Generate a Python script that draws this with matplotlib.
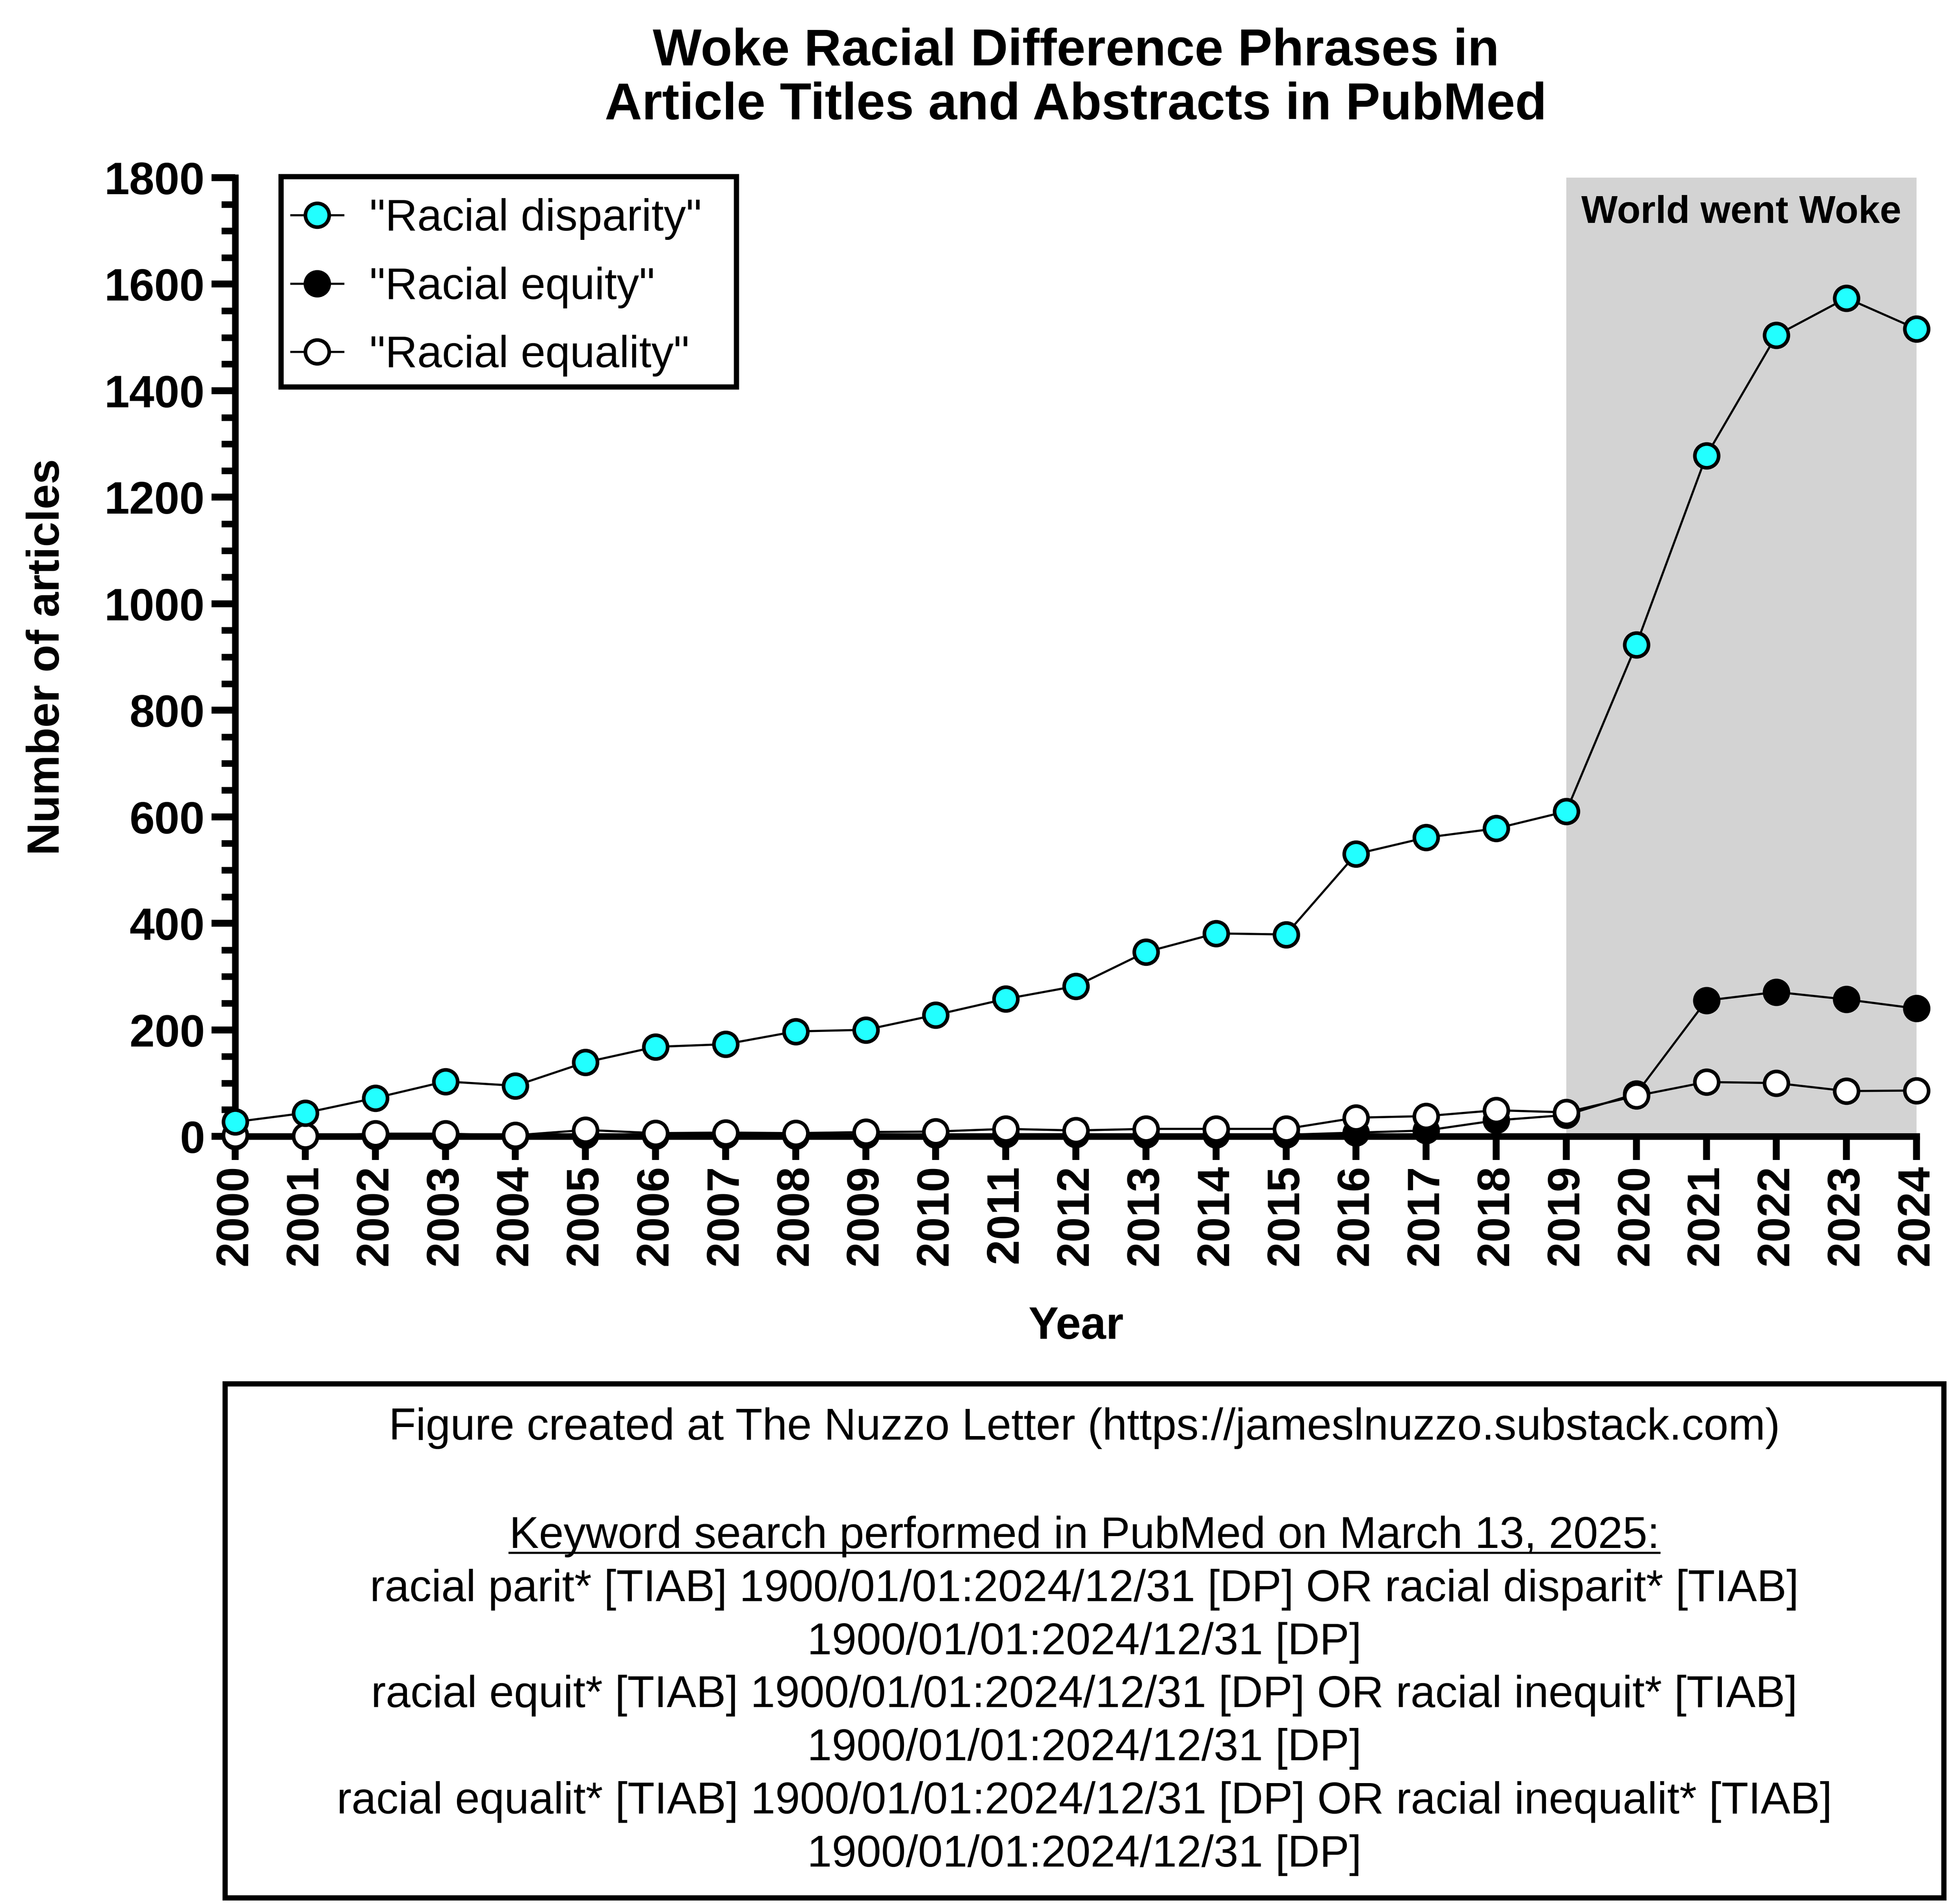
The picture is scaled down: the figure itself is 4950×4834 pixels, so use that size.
import matplotlib
matplotlib.use("Agg")
import matplotlib.pyplot as plt
from matplotlib.ticker import MultipleLocator
from matplotlib.lines import Line2D
from matplotlib.patches import Rectangle

plt.rcParams['font.family'] = ['Liberation Sans', 'DejaVu Sans']

# ---------------- data ----------------
years = list(range(2000, 2025))
racial_disparity = [27, 44, 72, 103, 95, 139, 168, 173, 197, 200, 228, 258, 282, 346, 381,
                    379, 530, 561, 578, 610, 923, 1278, 1504, 1574, 1516]
racial_equity = [0, 0, 0, 0, 0, 2, 1, 2, 1, 2, 3, 4, 4, 3, 3,
                 3, 7, 11, 30, 40, 80, 255, 271, 257, 240]
racial_equality = [2, 1, 5, 5, 2, 12, 6, 7, 6, 8, 9, 14, 11, 14, 14,
                   14, 35, 38, 49, 45, 76, 102, 100, 85, 86]
series_labels = ['"Racial disparity"', '"Racial equity"', '"Racial equality"']
woke_start, woke_end = 2019, 2024
title = "Woke Racial Difference Phrases in\nArticle Titles and Abstracts in PubMed"
note_lines = [
    "racial parit* [TIAB] 1900/01/01:2024/12/31 [DP] OR racial disparit* [TIAB]",
    "1900/01/01:2024/12/31 [DP]",
    "racial equit* [TIAB] 1900/01/01:2024/12/31 [DP] OR racial inequit* [TIAB]",
    "1900/01/01:2024/12/31 [DP]",
    "racial equalit* [TIAB] 1900/01/01:2024/12/31 [DP] OR racial inequalit* [TIAB]",
    "1900/01/01:2024/12/31 [DP]",
]
credit = "Figure created at The Nuzzo Letter (https://jameslnuzzo.substack.com)"
keyword_head = "Keyword search performed in PubMed on March 13, 2025:"

# ---------------- figure ----------------
W, H = 4950, 4834
fig = plt.figure(figsize=(W / 300, H / 300), dpi=300)
ax_l, ax_r, ax_t, ax_b = 597, 4865, 451, 2885
ax = fig.add_axes([ax_l / W, 1 - ax_b / H, (ax_r - ax_l) / W, (ax_b - ax_t) / H])

ax.axvspan(woke_start, woke_end, color='#d3d3d3', zorder=0, lw=0)

ms, mew, lw = 14.5, 2.2, 1.3
l_eq, = ax.plot(years, racial_equity, '-o', color='black', mfc='black', mec='black',
                ms=ms, mew=mew, lw=lw, zorder=3, clip_on=False, label=series_labels[1])
l_el, = ax.plot(years, racial_equality, '-o', color='black', mfc='white', mec='black',
                ms=ms, mew=mew, lw=lw, zorder=4, clip_on=False, label=series_labels[2])
l_ds, = ax.plot(years, racial_disparity, '-o', color='black', mfc='#22ffff', mec='black',
                ms=ms, mew=mew, lw=lw, zorder=5, clip_on=False, label=series_labels[0])

ax.set_xlim(2000, 2024)
ax.set_ylim(0, 1800)
ax.set_xticks(years)
ax.set_xticklabels([str(y) for y in years], rotation=90, fontsize=27.5, fontweight='bold')
ax.yaxis.set_major_locator(MultipleLocator(200))
ax.yaxis.set_minor_locator(MultipleLocator(50))
for lab in ax.get_yticklabels():
    lab.set_fontsize(27.5)
    lab.set_fontweight('bold')
ax.tick_params(axis='both', which='major', direction='out', length=14.5, width=4.2, pad=4)
ax.tick_params(axis='y', which='minor', direction='out', length=8.5, width=4.0)
ax.tick_params(axis='x', pad=3)

for s in ['top', 'right']:
    ax.spines[s].set_visible(False)
for s in ['left', 'bottom']:
    ax.spines[s].set_linewidth(4.0)
ax.spines['bottom'].set_zorder(2.5)

ax.set_title(title, fontsize=31.5, fontweight='bold', linespacing=1.15, pad=35.5)
ax.set_ylabel("Number of articles", fontsize=27.5, fontweight='bold')
ax.yaxis.set_label_coords(-0.099, 0.5)
ax.set_xlabel("Year", fontsize=27.5, fontweight='bold')
ax.xaxis.set_label_coords(0.5, -0.1766)

ax.text((woke_start + woke_end) / 2, 1734, "World went Woke", ha='center', va='center',
        fontsize=23.5, fontweight='bold', zorder=6)

# legend frame (drawn separately, inside the axes so it sits under the legend)
lx0, lx1, ly0, ly1 = 713, 1869, 448, 982
ax.add_patch(Rectangle((lx0 / W, 1 - ly1 / H), (lx1 - lx0) / W, (ly1 - ly0) / H,
                       transform=fig.transFigure, facecolor='white',
                       edgecolor='black', linewidth=3.2, zorder=9, clip_on=False))
leg = ax.legend(handles=[l_ds, l_eq, l_el], loc='upper left',
                bbox_to_anchor=(700 / W, 1 - 464 / H), bbox_transform=fig.transFigure,
                fontsize=27, frameon=False,
                borderpad=0.35, labelspacing=0.60, handlelength=1.17, handletextpad=0.6,
                borderaxespad=0)
leg.set_zorder(10)

# ---------------- note box ----------------
bx0, bx1, by0, by1 = 571, 4934, 3513, 4818
fig.patches.append(Rectangle((bx0 / W, 1 - by1 / H), (bx1 - bx0) / W, (by1 - by0) / H,
                             transform=fig.transFigure, fill=False, edgecolor='black',
                             linewidth=3.2))
cx = (bx0 + bx1) / 2 / W
fs_note = 27
fig.text(cx, 1 - 3655 / H, credit, ha='center', va='baseline', fontsize=fs_note)
head_base = 3930
t_head = fig.text(cx, 1 - head_base / H, keyword_head, ha='center', va='baseline',
                  fontsize=fs_note)
step = 134.8
for k, line in enumerate(note_lines, start=1):
    fig.text(cx, 1 - (head_base + step * k) / H, line, ha='center', va='baseline',
             fontsize=fs_note)

fig.canvas.draw()
bb = t_head.get_window_extent(fig.canvas.get_renderer())
uy = 1 - (head_base + 12) / H
fig.add_artist(Line2D([bb.x0 / W, bb.x1 / W], [uy, uy], transform=fig.transFigure,
                      color='black', lw=1.3))

fig.savefig("out.png", dpi=300)
